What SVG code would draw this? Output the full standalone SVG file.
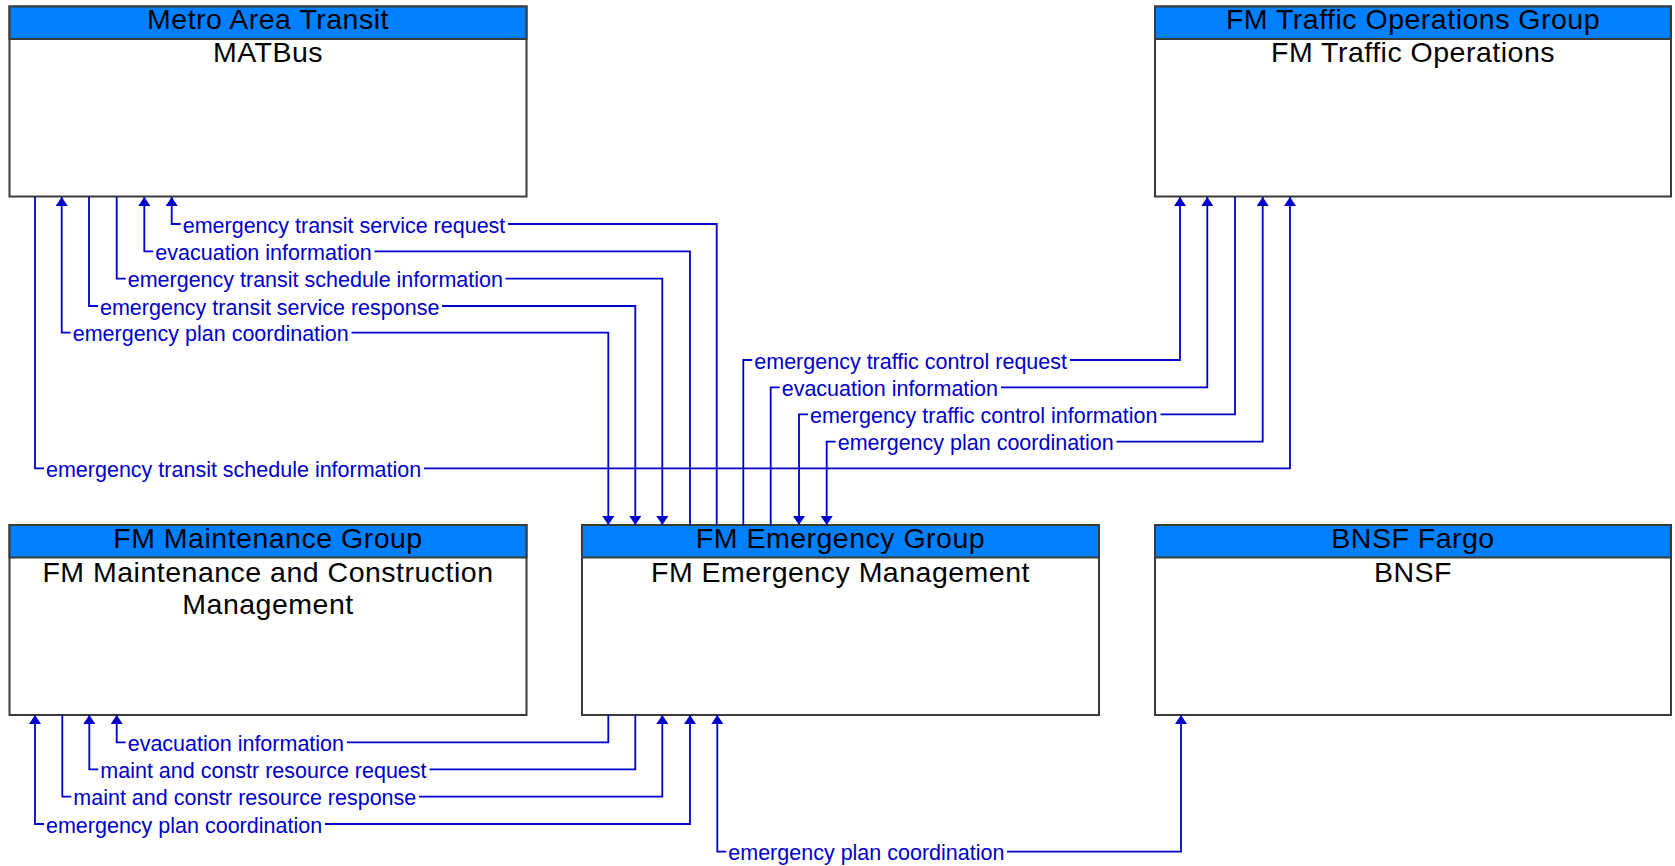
<svg xmlns="http://www.w3.org/2000/svg" width="1675" height="866" viewBox="0 0 1675 866">
<style>
.box{fill:#fff;stroke:#3a3a3a;stroke-width:2}
.hdr{fill:#0080ff;stroke:#3a3a3a;stroke-width:2}
.ht{font-family:"Liberation Sans",Arial,sans-serif;font-size:28.5px;letter-spacing:0.5px;fill:#000;text-anchor:middle}
.c{fill:none;stroke:#0000cc;stroke-width:1.8}
.lb{font-family:"Liberation Sans",Arial,sans-serif;font-size:21.5px;fill:#0000cc}
</style>
<defs>
<marker id="ah" viewBox="0 0 9 12" refX="9" refY="6" markerWidth="9" markerHeight="12" markerUnits="userSpaceOnUse" orient="auto" preserveAspectRatio="none">
<path d="M0,0 L9,6 L0,12 z" fill="#0000cc"/>
</marker>
</defs>
<rect width="1675" height="866" fill="#fff"/>

<g id="node-matbus">
<rect class="box" x="9.5" y="6.5" width="517" height="190"/>
<rect class="hdr" x="9.5" y="6.5" width="517" height="32.5"/>
<text class="ht" x="268" y="29">Metro Area Transit</text>
<text class="ht" x="268" y="62">MATBus</text>
</g>

<g id="node-traffic-ops">
<rect class="box" x="1155" y="6.5" width="516" height="190"/>
<rect class="hdr" x="1155" y="6.5" width="516" height="32.5"/>
<text class="ht" x="1413" y="29">FM Traffic Operations Group</text>
<text class="ht" x="1413" y="62">FM Traffic Operations</text>
</g>

<g id="node-maintenance">
<rect class="box" x="9.5" y="525" width="517" height="190"/>
<rect class="hdr" x="9.5" y="525" width="517" height="32.5"/>
<text class="ht" x="268" y="547.5">FM Maintenance Group</text>
<text class="ht" x="268" y="581.5">FM Maintenance and Construction</text>
<text class="ht" x="268" y="614">Management</text>
</g>

<g id="node-emergency">
<rect class="box" x="582" y="525" width="517" height="190"/>
<rect class="hdr" x="582" y="525" width="517" height="32.5"/>
<text class="ht" x="840.5" y="547.5">FM Emergency Group</text>
<text class="ht" x="840.5" y="581.5">FM Emergency Management</text>
</g>

<g id="node-bnsf">
<rect class="box" x="1155" y="525" width="516" height="190"/>
<rect class="hdr" x="1155" y="525" width="516" height="32.5"/>
<text class="ht" x="1413" y="547.5">BNSF Fargo</text>
<text class="ht" x="1413" y="581.5">BNSF</text>
</g>

<g id="connectors">
<path class="c" d="M716.7,525 V224 H508"/>
<path class="c" d="M180.7,224 H171.7 V197" marker-end="url(#ah)"/>
<text class="lb" x="182.7" y="232.5">emergency transit service request</text>

<path class="c" d="M690,525 V251.3 H374.5"/>
<path class="c" d="M153.3,251.3 H144.3 V197" marker-end="url(#ah)"/>
<text class="lb" x="155.3" y="259.8">evacuation information</text>

<path class="c" d="M116.7,197 V278.7 H125.7"/>
<path class="c" d="M505.5,278.7 H662.3 V525" marker-end="url(#ah)"/>
<text class="lb" x="127.7" y="287.2">emergency transit schedule information</text>

<path class="c" d="M89,197 V306 H98"/>
<path class="c" d="M442,306 H635.3 V525" marker-end="url(#ah)"/>
<text class="lb" x="100" y="314.5">emergency transit service response</text>

<path class="c" d="M70.7,332.7 H61.7 V197" marker-end="url(#ah)"/>
<path class="c" d="M351.5,332.7 H608.3 V525" marker-end="url(#ah)"/>
<text class="lb" x="72.7" y="341.2">emergency plan coordination</text>

<path class="c" d="M35,197 V468.3 H44"/>
<path class="c" d="M424,468.3 H1290 V197" marker-end="url(#ah)"/>
<text class="lb" x="46" y="476.8">emergency transit schedule information</text>

<path class="c" d="M743.3,525 V360 H752.3"/>
<path class="c" d="M1070,360 H1180 V197" marker-end="url(#ah)"/>
<text class="lb" x="754.3" y="368.5">emergency traffic control request</text>

<path class="c" d="M770.7,525 V387.3 H779.7"/>
<path class="c" d="M1001,387.3 H1207.3 V197" marker-end="url(#ah)"/>
<text class="lb" x="781.7" y="395.8">evacuation information</text>

<path class="c" d="M1235,197 V414.3 H1160.5"/>
<path class="c" d="M808,414.3 H799 V525" marker-end="url(#ah)"/>
<text class="lb" x="810" y="422.8">emergency traffic control information</text>

<path class="c" d="M1116.5,441.7 H1262.7 V197" marker-end="url(#ah)"/>
<path class="c" d="M835.7,441.7 H826.7 V525" marker-end="url(#ah)"/>
<text class="lb" x="837.7" y="450.2">emergency plan coordination</text>

<path class="c" d="M608.3,715 V742.3 H347"/>
<path class="c" d="M125.7,742.3 H116.7 V715" marker-end="url(#ah)"/>
<text class="lb" x="127.7" y="750.8">evacuation information</text>

<path class="c" d="M635.3,715 V769.3 H429.5"/>
<path class="c" d="M98.3,769.3 H89.3 V715" marker-end="url(#ah)"/>
<text class="lb" x="100.3" y="777.8">maint and constr resource request</text>

<path class="c" d="M62.3,715 V796.7 H71.3"/>
<path class="c" d="M419,796.7 H662.3 V715" marker-end="url(#ah)"/>
<text class="lb" x="73.3" y="805.2">maint and constr resource response</text>

<path class="c" d="M44,824 H35 V715" marker-end="url(#ah)"/>
<path class="c" d="M325,824 H690 V715" marker-end="url(#ah)"/>
<text class="lb" x="46" y="832.5">emergency plan coordination</text>

<path class="c" d="M726.3,851.7 H717.3 V715" marker-end="url(#ah)"/>
<path class="c" d="M1007,851.7 H1181 V715" marker-end="url(#ah)"/>
<text class="lb" x="728.3" y="860.2">emergency plan coordination</text>
</g>
</svg>
